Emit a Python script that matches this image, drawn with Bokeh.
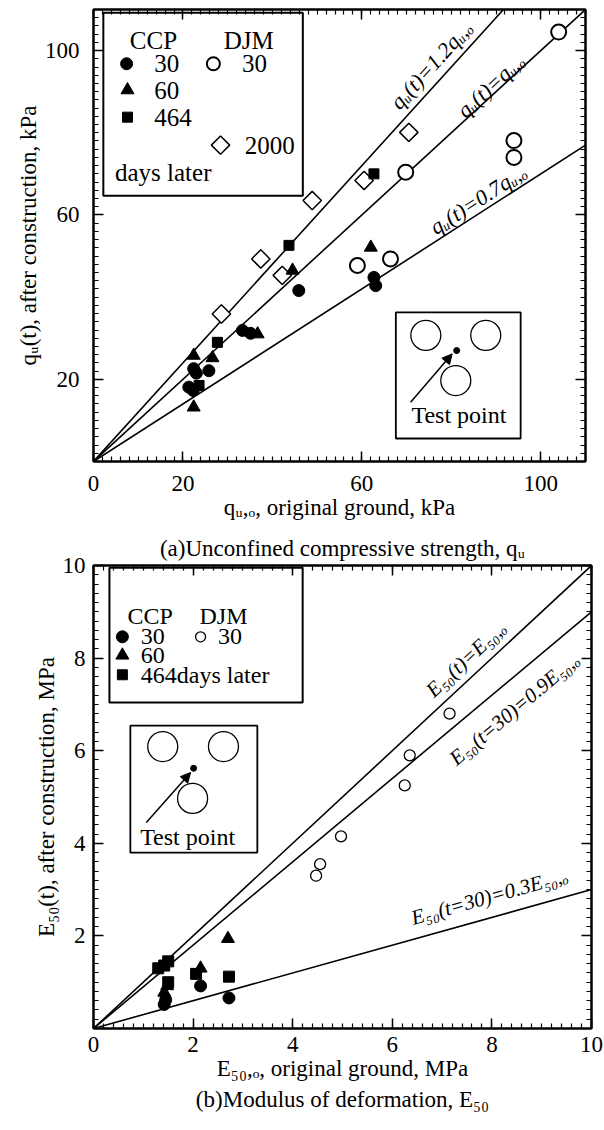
import math
from bokeh.plotting import figure
from bokeh.layouts import column
from bokeh.models import (LinearAxis, FixedTicker, Range1d, Title, Arrow,
                          NormalHead, CustomJSTickFormatter)
from bokeh.core.properties import value
from bokeh.embed import file_html
from bokeh.resources import INLINE

FONT = "Liberation Serif"

# ---------------- data : panel (a) unconfined compressive strength, kPa
ccp30_a_x = [21.3, 22.3, 22.4, 23.0, 25.8, 33.3, 35.1, 45.9, 62.7, 63.1]
ccp30_a_y = [18.1, 17.3, 22.6, 21.5, 22.1, 31.9, 31.2, 41.6, 44.8, 42.8]
ccp60_a_x = [22.4, 22.4, 26.6, 36.7, 44.5, 62.0]
ccp60_a_y = [25.8, 13.2, 25.2, 31.0, 46.5, 52.1]
ccp464_a_x = [23.6, 27.7, 43.7, 62.7]
ccp464_a_y = [18.5, 29.0, 52.6, 70.0]
djm30_a_x = [59.0, 66.4, 69.8, 94.0, 94.0, 104.0]
djm30_a_y = [47.7, 49.3, 70.4, 74.0, 78.1, 104.5]
djm2000_a_x = [28.6, 37.4, 42.2, 48.9, 60.5, 70.5]
djm2000_a_y = [35.9, 49.3, 45.3, 63.5, 68.4, 80.1]
ratios_a = [1.2, 1.0, 0.7]
ratio_labels_a = ["qᵤ(t)=1.2qᵤ,ₒ", "qᵤ(t)=qᵤ,ₒ", "qᵤ(t)=0.7qᵤ,ₒ"]
ratio_label_pos_a = [(75.5, 96.5), (88.8, 91.5), (86.0, 63.8)]
xticks_a = [0, 20, 60, 100]
yticks_a = [20, 60, 100]

# ---------------- data : panel (b) modulus of deformation, MPa
ccp30_b_x = [1.42, 1.45, 2.15, 2.72]
ccp30_b_y = [0.52, 0.62, 0.92, 0.66]
ccp60_b_x = [1.42, 1.48, 2.15, 2.70]
ccp60_b_y = [0.78, 0.92, 1.30, 1.94]
ccp464_b_x = [1.30, 1.42, 1.50, 1.50, 2.06, 2.72]
ccp464_b_y = [1.30, 1.36, 1.45, 1.00, 1.18, 1.12]
djm30_b_x = [4.47, 4.55, 4.97, 6.25, 6.35, 7.15]
djm30_b_y = [3.30, 3.55, 4.15, 5.25, 5.90, 6.80]
ratios_b = [1.0, 0.9, 0.3]
ratio_labels_b = ["E₅₀(t)=E₅₀,ₒ", "E₅₀(t=30)=0.9E₅₀,ₒ", "E₅₀(t=30)=0.3E₅₀,ₒ"]
ratio_label_pos_b = [(7.48, 7.98), (8.45, 6.90), (7.95, 2.85)]
xticks_b = [0, 2, 4, 6, 8, 10]
yticks_b = [2, 4, 6, 8, 10]


def make_fig(xr, yr, fw, fh, left, right, top, bottom):
    p = figure(x_range=Range1d(*xr), y_range=Range1d(*yr),
               frame_width=fw, frame_height=fh,
               min_border_left=left, min_border_right=right,
               min_border_top=top, min_border_bottom=bottom,
               toolbar_location=None, output_backend="svg",
               x_axis_location=None, y_axis_location=None)
    p.grid.visible = False
    p.outline_line_color = "black"
    p.outline_line_width = 2
    p.background_fill_color = "white"
    p.border_fill_color = "white"
    return p


def add_axes(p, xt, yt, xminor, yminor, xlabel, ylabel, standoff):
    blank = CustomJSTickFormatter(code="return ''")
    specs = [("below", xt, xminor, xlabel), ("left", yt, yminor, ylabel),
             ("above", xt, xminor, None), ("right", yt, yminor, None)]
    for loc, t, mt, lab in specs:
        ax = LinearAxis(ticker=FixedTicker(ticks=t, minor_ticks=mt))
        ax.axis_line_width = 2
        ax.major_tick_in = 10
        ax.major_tick_out = 0
        ax.minor_tick_in = 5
        ax.minor_tick_out = 0
        ax.major_tick_line_width = 1.5
        ax.minor_tick_line_width = 1.2
        ax.major_label_text_font = FONT
        ax.major_label_text_color = "black"
        if lab is None:
            ax.formatter = blank
            ax.major_label_standoff = 0
            ax.major_label_text_font_size = "0px"
        else:
            ax.major_label_text_font_size = "23px"
            ax.axis_label = lab
            ax.axis_label_text_font = FONT
            ax.axis_label_text_font_size = "23px"
            ax.axis_label_text_font_style = "normal"
            ax.axis_label_text_color = "black"
            ax.major_label_standoff = standoff
            ax.axis_label_standoff = 1
        p.add_layout(ax, loc)


def caption(p, text, loc, standoff):
    p.add_layout(Title(text=text, align="center", text_font=FONT,
                       text_font_size="23px", text_font_style="normal",
                       text_color="black", standoff=standoff), loc)


def ratio_lines(p, ratios, labels, pos, xmax, ymax, fw, fh, size):
    kx = fw / xmax
    ky = fh / ymax
    for r, lab, (tx, ty) in zip(ratios, labels, pos):
        xe = min(xmax, ymax / r)
        p.line([0, xe], [0, r * xe], line_color="black", line_width=1.6)
        ang = math.atan(r * ky / kx)
        p.text(x=[tx], y=[ty], text=[lab], angle=ang,
               text_font=value(FONT), text_font_size=size,
               text_font_style="italic", text_align="center",
               text_baseline="middle", text_color="black")


def inset(p, box, circ_x, circ_y, dot, arrow, label_pos, csize):
    p.quad(left=[box[0]], right=[box[1]], bottom=[box[2]], top=[box[3]],
           fill_color="white", line_color="black", line_width=1.8)
    p.scatter(circ_x, circ_y, marker="circle", size=csize,
              fill_color=None, line_color="black", line_width=1.3)
    p.scatter([dot[0]], [dot[1]], marker="circle", size=6,
              fill_color="black", line_color="black")
    p.add_layout(Arrow(end=NormalHead(size=10, fill_color="black",
                                      line_color="black"),
                       x_start=arrow[0], y_start=arrow[1],
                       x_end=arrow[2], y_end=arrow[3], line_width=1.5))
    p.text(x=[label_pos[0]], y=[label_pos[1]], text=["Test point"],
           text_font=value(FONT), text_font_size="24px",
           text_align="center", text_baseline="middle", text_color="black")


# ================= panel (a)
FW1, FH1 = 492, 452
p1 = make_fig((0, 110), (0, 110), FW1, FH1, 93, 19, 9, 66)
add_axes(p1, xticks_a, yticks_a, list(range(0, 111, 2)), list(range(0, 111, 2)),
         "qᵤ,ₒ, original ground, kPa", "qᵤ(t), after construction, kPa", 14)
ratio_lines(p1, ratios_a, ratio_labels_a, ratio_label_pos_a, 110, 110, FW1, FH1, "22px")

# legend box (a)
p1.quad(left=[2.2], right=[46.8], bottom=[64.7], top=[109.2],
        fill_color="white", line_color="black", line_width=2)
p1.text(x=[13.4, 34.7], y=[102.4, 102.4], text=["CCP", "DJM"],
        text_font=value(FONT), text_font_size="25px", text_align="center",
        text_baseline="middle", text_color="black")
p1.scatter([7.4], [96.8], marker="circle", size=12, fill_color="black", line_color="black")
p1.scatter([7.6], [90.4], marker="triangle", size=13, fill_color="black", line_color="black")
p1.scatter([7.6], [83.8], marker="square", size=10, fill_color="black", line_color="black")
p1.scatter([26.8], [96.8], marker="circle", size=13, fill_color="white", line_color="black", line_width=2)
p1.scatter([28.4], [77.0], marker="square", angle=math.pi / 4, size=13,
           fill_color="white", line_color="black", line_width=1.5)
p1.text(x=[13.6, 13.6, 13.6, 33.2, 33.8, 4.8], y=[96.8, 90.4, 83.8, 96.8, 77.0, 70.3],
        text=["30", "60", "464", "30", "2000", "days later"],
        text_font=value(FONT), text_font_size="25px", text_align="left",
        text_baseline="middle", text_color="black")

# data (a)
p1.scatter(djm2000_a_x, djm2000_a_y, marker="square", angle=math.pi / 4, size=13,
           fill_color="white", line_color="black", line_width=1.5)
p1.scatter(djm30_a_x, djm30_a_y, marker="circle", size=15,
           fill_color="white", line_color="black", line_width=2)
p1.scatter(ccp30_a_x, ccp30_a_y, marker="circle", size=12, fill_color="black", line_color="black")
p1.scatter(ccp60_a_x, ccp60_a_y, marker="triangle", size=13, fill_color="black", line_color="black")
p1.scatter(ccp464_a_x, ccp464_a_y, marker="square", size=10, fill_color="black", line_color="black")

inset(p1, (67.6, 95.5, 5.6, 36.3), [74.3, 87.7, 81.0], [30.7, 30.7, 19.7],
      (81.2, 27.0), (70.9, 14.4, 80.2, 26.2), (81.7, 11.2), 30)

# ================= panel (b)
FW2, FH2 = 498, 463
p2 = make_fig((0, 10), (0, 10), FW2, FH2, 89, 17, 38, 86)
add_axes(p2, xticks_b, yticks_b, [i * 0.2 for i in range(51)], [i * 0.2 for i in range(51)],
         "E₅₀,ₒ, original ground, MPa", "E₅₀(t), after construction, MPa", 8)
caption(p2, "(a)Unconfined compressive strength, qᵤ", "above", 10)
caption(p2, "(b)Modulus of deformation, E₅₀", "below", 2)
ratio_lines(p2, ratios_b, ratio_labels_b, ratio_label_pos_b, 10, 10, FW2, FH2, "21px")

# legend box (b)
p2.quad(left=[0.32], right=[4.2], bottom=[7.04], top=[9.95],
        fill_color="white", line_color="black", line_width=2)
p2.text(x=[1.14, 2.61], y=[8.9, 8.9], text=["CCP", "DJM"],
        text_font=value(FONT), text_font_size="24px", text_align="center",
        text_baseline="middle", text_color="black")
p2.scatter([0.58], [8.46], marker="circle", size=12, fill_color="black", line_color="black")
p2.scatter([0.58], [8.06], marker="triangle", size=13, fill_color="black", line_color="black")
p2.scatter([0.58], [7.64], marker="square", size=10, fill_color="black", line_color="black")
p2.scatter([2.15], [8.46], marker="circle", size=10, fill_color="white", line_color="black", line_width=1.3)
p2.text(x=[0.95, 0.95, 0.95, 2.5], y=[8.46, 8.06, 7.64, 8.46],
        text=["30", "60", "464days later", "30"],
        text_font=value(FONT), text_font_size="24px", text_align="left",
        text_baseline="middle", text_color="black")

# data (b)
p2.scatter(djm30_b_x, djm30_b_y, marker="circle", size=11,
           fill_color="white", line_color="black", line_width=1.3)
p2.scatter(ccp30_b_x, ccp30_b_y, marker="circle", size=12, fill_color="black", line_color="black")
p2.scatter(ccp60_b_x, ccp60_b_y, marker="triangle", size=13, fill_color="black", line_color="black")
p2.scatter(ccp464_b_x, ccp464_b_y, marker="square", size=11, fill_color="black", line_color="black")

inset(p2, (0.74, 3.29, 3.80, 6.54), [1.39, 2.61, 1.99], [6.09, 6.09, 4.97],
      (2.01, 5.62), (1.06, 4.45, 1.95, 5.53), (1.89, 4.13), 30)

layout = column(p1, p2, spacing=0)
open("out.html", "w").write(file_html(layout, INLINE))
